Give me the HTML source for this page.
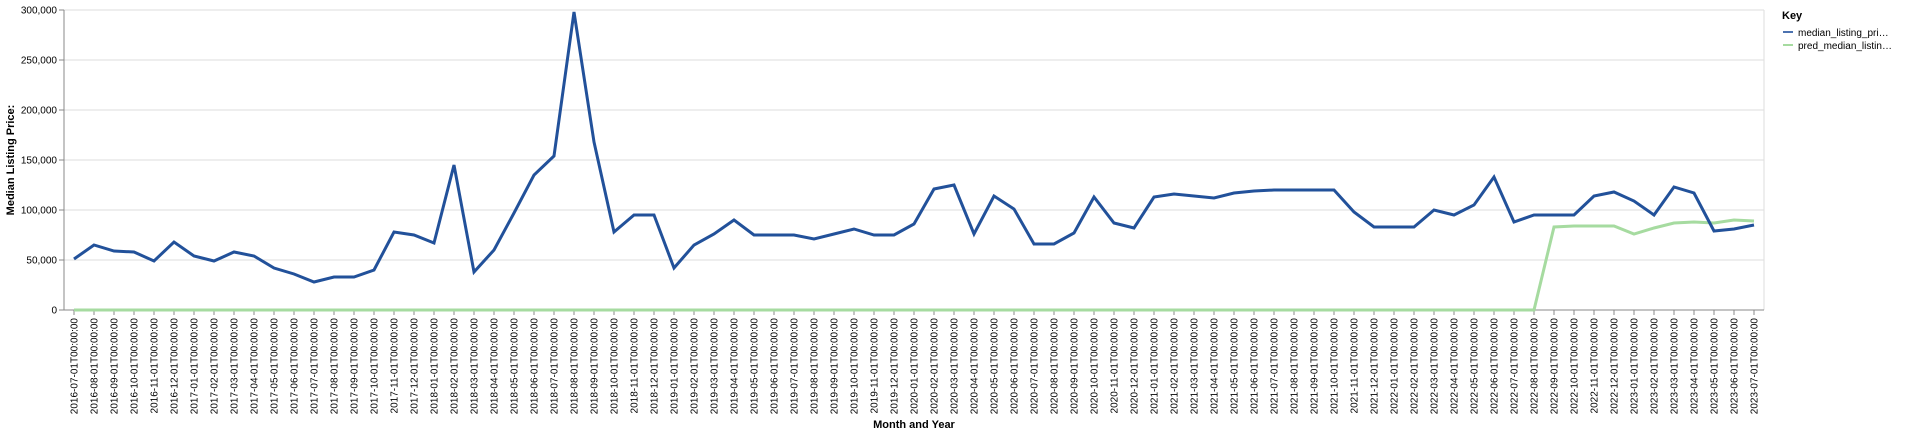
<!DOCTYPE html>
<html><head><meta charset="utf-8"><style>
body{margin:0;background:#fff;font-family:"Liberation Sans",sans-serif;}
svg text{font-family:"Liberation Sans",sans-serif;}
</style></head><body>
<svg id="chart" width="1920" height="434"></svg>
<script>
const startYear = 2016, startMonth = 7;
const actualValues = [51000,65000,59000,58000,49000,68000,54000,49000,58000,54000,42000,36000,28000,33000,33000,40000,78000,75000,67000,145000,38000,60000,97000,135000,154000,298000,168000,78000,95000,95000,42000,65000,76000,90000,75000,75000,75000,71000,76000,81000,75000,75000,86000,121000,125000,76000,114000,101000,66000,66000,77000,113000,87000,82000,113000,116000,114000,112000,117000,119000,120000,120000,120000,120000,98000,83000,83000,83000,100000,95000,105000,133000,88000,95000,95000,95000,114000,118000,109000,95000,123000,117000,79000,81000,85000];
const predValues = [0,0,0,0,0,0,0,0,0,0,0,0,0,0,0,0,0,0,0,0,0,0,0,0,0,0,0,0,0,0,0,0,0,0,0,0,0,0,0,0,0,0,0,0,0,0,0,0,0,0,0,0,0,0,0,0,0,0,0,0,0,0,0,0,0,0,0,0,0,0,0,0,0,0,83000,84000,84000,84000,76000,82000,87000,88000,87000,90000,89000];
const yTicks = [0,50000,100000,150000,200000,250000,300000];
const legendLabels = ["median_listing_pri…","pred_median_listin…"];

const NS="http://www.w3.org/2000/svg";
const svg=document.getElementById('chart');
const L=64,R=1764,T=10,B=310,X0=74,STEP=20;
const categories = actualValues.map((_,i)=>{const m=startMonth-1+i;const y=startYear+Math.floor(m/12);const mm=String(m%12+1).padStart(2,'0');return y+'-'+mm+'-01T00:00:00';});
const xs=i=>X0+i*STEP;
const ys=v=>B-(v/300000)*(B-T);
function el(t,a,txt){const e=document.createElementNS(NS,t);for(const k in a)e.setAttribute(k,a[k]);if(txt!==undefined)e.textContent=txt;svg.appendChild(e);return e;}

yTicks.forEach(v=>{
  const g=el('line',{x1:L,x2:R,y1:ys(v),y2:ys(v),stroke:'#ddd','stroke-width':1});
  
  
  const tk=el('line',{x1:L-5,x2:L,y1:ys(v),y2:ys(v),stroke:'#888'});
  
  
  const t=el('text',{x:L-7,y:ys(v)+3.5,'text-anchor':'end','font-size':10,fill:'#000'},v.toLocaleString('en-US'));
  
  
});
const rb=el('line',{x1:R,x2:R,y1:T,y2:B,stroke:'#ddd'});


const ya=el('line',{x1:L,x2:L,y1:T,y2:B,stroke:'#888'});


const xa=el('line',{x1:L,x2:R,y1:B,y2:B,stroke:'#888'});


categories.forEach((c,i)=>{
  const tk=el('line',{x1:xs(i),x2:xs(i),y1:B,y2:B+5,stroke:'#888'});
  
  
  const t=el('text',{x:0,y:0,'text-anchor':'end','font-size':10,fill:'#000',transform:`translate(${xs(i)+3.5},${B+8}) rotate(-90)`},c);
  
  
});
function series(vals,color,name){
  const p=el('polyline',{points:vals.map((v,i)=>xs(i)+','+ys(v)).join(' '),fill:'none',stroke:color,'stroke-width':3,'stroke-linejoin':'miter'});
  
  
}
series(predValues,'#a6dba0','pred-median-listing-price-line');
series(actualValues,'#22519a','median-listing-price-line');

const yt=el('text',{x:0,y:0,'text-anchor':'middle','font-size':11,'font-weight':'bold',transform:`translate(14,${(T+B)/2}) rotate(-90)`},'Median Listing Price:');


const xt=el('text',{x:(L+R)/2,y:428,'text-anchor':'middle','font-size':11,'font-weight':'bold'},'Month and Year');


const kt=el('text',{x:1782,y:19,'font-size':11,'font-weight':'bold'},'Key');


['#4c72b0','#a6dba0'].forEach((c,i)=>{
  const y=32+i*13;
  const s=el('line',{x1:1783,x2:1793,y1:y,y2:y,stroke:c,'stroke-width':2});
  
  
  const t=el('text',{x:1798,y:y+4,'font-size':10,fill:'#000'},legendLabels[i]);
  
  
});
</script>
</body></html>
